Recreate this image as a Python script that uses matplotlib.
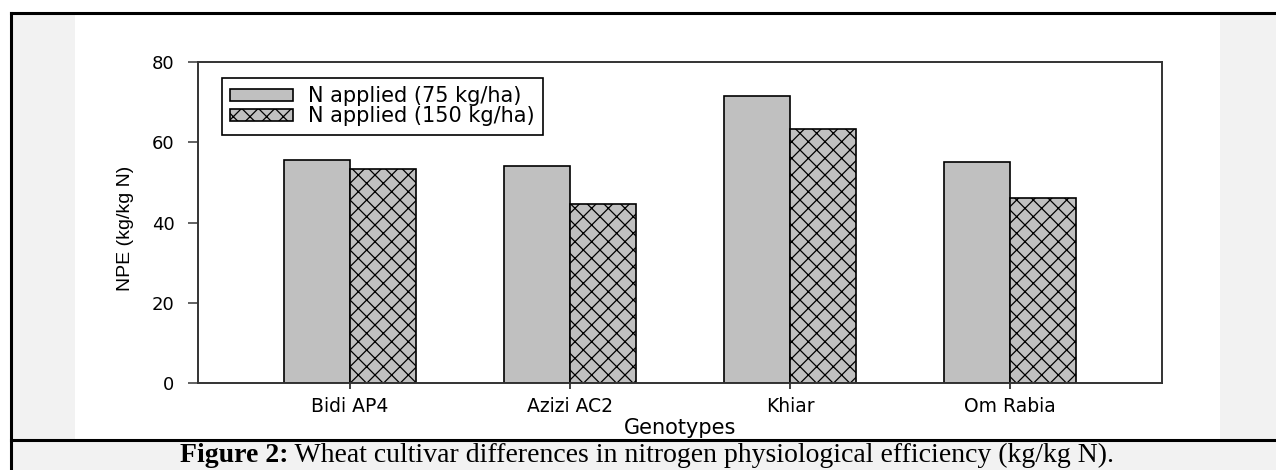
import matplotlib
matplotlib.use('Agg')
import matplotlib.pyplot as plt
from matplotlib.patches import Rectangle
import numpy as np

genotypes = ['Bidi AP4', 'Azizi AC2', 'Khiar', 'Om Rabia']
npe_75 = [55.5, 54.2, 71.5, 55.2]
npe_150 = [53.3, 44.7, 63.2, 46.0]
series_names = ['N applied (75 kg/ha)', 'N applied (150 kg/ha)']
yticks = [0, 20, 40, 60, 80]

W, H = 1276, 470
plt.rcParams['hatch.linewidth'] = 0.9
plt.rcParams['hatch.color'] = 'black'
plt.rcParams['font.family'] = ['DejaVu Sans']

fig = plt.figure(figsize=(W / 100, H / 100), dpi=100, facecolor='white')


# page decoration: gray strips, white panel, borders
def px_rect(x0, y0, x1, y1, **kw):
    fig.patches.append(Rectangle((x0 / W, 1 - y1 / H), (x1 - x0) / W, (y1 - y0) / H,
                                 transform=fig.transFigure, figure=fig, **kw))


px_rect(11, 13, 75, 440, facecolor='#f2f2f2', edgecolor='none', zorder=0)
px_rect(1220, 13, W, 440, facecolor='#f2f2f2', edgecolor='none', zorder=0)
px_rect(11, 440, W, H, facecolor='#f2f2f2', edgecolor='none', zorder=0)
for xs, ys in [([11, W], [13, 13]), ([11, 11], [13, H]), ([11, W], [440, 440])]:
    fig.add_artist(plt.Line2D([v / W for v in xs], [1 - v / H for v in ys],
                              color='black', lw=2.2, transform=fig.transFigure))

ax = fig.add_axes([198 / W, 1 - 383 / H, (1162 - 198) / W, (383 - 62) / H])
ax.set_facecolor('white')

x = np.arange(len(genotypes))
width = 0.3
ax.bar(x, npe_75, width=-width, align='edge', color='#c0c0c0', edgecolor='black',
       linewidth=1.2, label=series_names[0], zorder=2)
ax.bar(x, npe_150, width=width, align='edge', color='#c0c0c0', edgecolor='black',
       linewidth=1.2, hatch='xx', label=series_names[1], zorder=2)

ax.set_xlim(-0.69, 3.69)
ax.set_ylim(0, 80)
ax.set_yticks(yticks)
ax.set_xticks(x)
ax.set_xticklabels(genotypes)

for s in ax.spines.values():
    s.set_color('#333333')
    s.set_linewidth(1.4)

ax.tick_params(axis='y', direction='out', length=7, width=1.3, color='#555555',
               labelsize=13, pad=10)
ax.tick_params(axis='x', direction='out', length=4, width=1.3, color='#333333',
               labelsize=13.5, pad=6)

ax.set_ylabel('NPE (kg/kg N)', family=['Liberation Sans Narrow', 'Liberation Sans'],
              fontsize=14)
ax.yaxis.set_label_coords(-0.066, 0.483)
ax.set_xlabel('Genotypes', fontsize=15)
ax.xaxis.set_label_coords(0.5, -0.11)
ax.xaxis.label.set_va('top')

leg = ax.legend(loc='upper left', bbox_to_anchor=(0.0249, 0.95), fontsize=15,
                frameon=True, fancybox=False, edgecolor='black', framealpha=1,
                handlelength=3.0, handleheight=0.5, handletextpad=0.75,
                labelspacing=0.0, borderpad=0.4, borderaxespad=0)
leg.get_frame().set_linewidth(1.2)

# caption: bold lead followed by regular text, centred on the panel
cap_bold = 'Figure 2:'
cap_rest = ' Wheat cultivar differences in nitrogen physiological efficiency (kg/kg N).'
cap = fig.text(0, 1 - 455 / H, cap_bold, family='Liberation Serif',
               fontweight='bold', fontsize=20, va='center', ha='left')
rest = fig.text(0, 1 - 455 / H, cap_rest, family='Liberation Serif',
                fontsize=20, va='center', ha='left')
fig.canvas.draw()
w1 = cap.get_window_extent().width
w2 = rest.get_window_extent().width
x0 = 647 - (w1 + w2) / 2
cap.set_x(x0 / W)
rest.set_x((x0 + w1) / W)

fig.savefig('out.png', dpi=100, facecolor='white')
